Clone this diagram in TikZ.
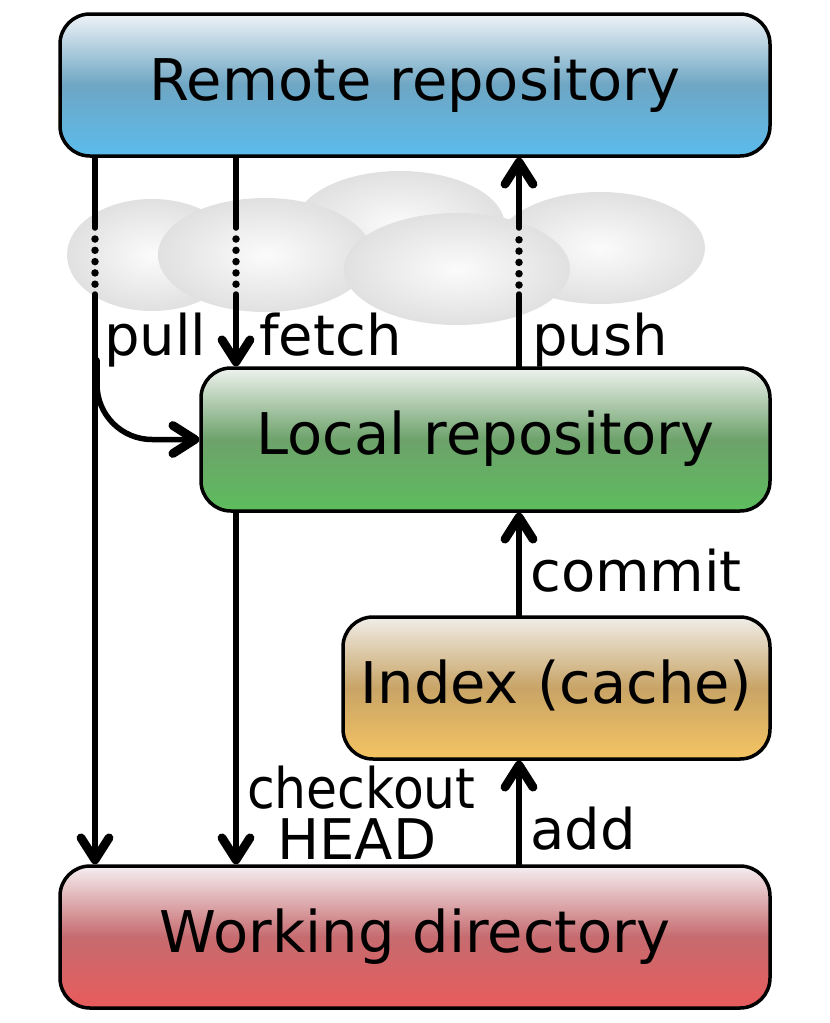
\documentclass[tikz,border=0pt]{standalone}
\usepackage{fontspec}
\setmainfont{DejaVu Sans}
\usetikzlibrary{arrows.meta}
\definecolor{remotetop}{HTML}{EEF3F6}
\definecolor{remotemid}{HTML}{6EA6C4}
\definecolor{remotebot}{HTML}{5BBCEC}
\definecolor{localtop}{HTML}{EEF2EE}
\definecolor{localmid}{HTML}{6DA26B}
\definecolor{localbot}{HTML}{5DBD5D}
\definecolor{indextop}{HTML}{F0EDE8}
\definecolor{indexmid}{HTML}{C8A466}
\definecolor{indexbot}{HTML}{F5C462}
\definecolor{worktop}{HTML}{F5EEF0}
\definecolor{workmid}{HTML}{C66B6F}
\definecolor{workbot}{HTML}{E95B5B}

\begin{document}
\begin{tikzpicture}[x=1pt,y=-1pt,
  >={Straight Barb[length=22pt,width=28pt,round,line width=0pt 1.6]},
  box/.style={draw=black,line width=3.5pt,rounded corners=30pt,inner sep=0pt,
    text height=42pt,text depth=12pt,font=\fontsize{57.5}{60}\selectfont},
  lbl/.style={inner sep=0pt,anchor=base west,font=\fontsize{56}{60}\selectfont},
  line/.style={line width=5.5pt,line cap=round},
  dots/.style={line width=7.5pt,line cap=round,dash pattern=on 0pt off 11.3pt},
  cloud/.style={inner color=gray!3,outer color=gray!24}]
\useasboundingbox (0,0) rectangle (830,1023);

\shade[cloud] (600,248) ellipse [x radius=105, y radius=56];
\shade[cloud] (400,226) ellipse [x radius=105, y radius=55];
\shade[cloud] (152,255) ellipse [x radius=85, y radius=56];
\shade[cloud] (265,255) ellipse [x radius=107, y radius=57];
\shade[cloud] (457,269) ellipse [x radius=113, y radius=56];

\node[box,minimum width=710pt,minimum height=142pt,
  top color=remotetop,bottom color=remotebot,middle color=remotemid] (remote) at (415,85) {Remote repository};
\node[box,minimum width=569pt,minimum height=143pt,
  top color=localtop,bottom color=localbot,middle color=localmid] (local) at (485.5,439.5) {Local repository};
\node[box,minimum width=427pt,minimum height=142pt,
  top color=indextop,bottom color=indexbot,middle color=indexmid] (index) at (556.5,688) {Index (cache)};
\node[box,minimum width=710pt,minimum height=142pt,
  top color=worktop,bottom color=workbot,middle color=workmid] (working) at (415,937) {Working directory};

\coordinate (pullx) at (95,0);
\coordinate (fetchx) at (236,0);
\coordinate (pushx) at (519,0);
\coordinate (fogtop) at (0,228);
\coordinate (dottop) at (0,239);
\coordinate (dotbot) at (0,285);
\coordinate (fogbot) at (0,294);
\coordinate (pullbend) at (97,360);

\draw[line] (remote.south -| pullx) -- (pullx |- fogtop);
\draw[dots] (pullx |- dottop) -- (pullx |- dotbot);
\draw[line,->] (pullx |- fogbot) -- (working.north -| pullx);
\draw[line,->,rounded corners=55pt] (pullbend) |- (local.west);

\draw[line] (remote.south -| fetchx) -- (fetchx |- fogtop);
\draw[dots] (fetchx |- dottop) -- (fetchx |- dotbot);
\draw[line,->] (fetchx |- fogbot) -- (local.north -| fetchx);

\draw[line] (local.north -| pushx) -- (pushx |- fogbot);
\draw[dots] (pushx |- dotbot) -- (pushx |- dottop);
\draw[line,->] (pushx |- fogtop) -- (remote.south -| pushx);

\draw[line,->] (index.north -| pushx) -- (local.south -| pushx);
\draw[line,->] (working.north -| pushx) -- (index.south -| pushx);
\draw[line,->] (local.south -| fetchx) -- (working.north -| fetchx);

\node[lbl] (pull) at (104,355) {pull};
\node[lbl] (fetch) at (259,355) {fetch};
\node[lbl] (push) at (532,355) {push};
\node[lbl] (commit) at (530,591) {commit};
\node[lbl,text depth=0pt] (checkout) at (247,808) {\scalebox{0.9}[1]{checkout}};
\node[lbl,text height=40pt] (head) at (277,859) {HEAD};
\node[lbl] (add) at (530,849) {add};
\end{tikzpicture}
\end{document}
